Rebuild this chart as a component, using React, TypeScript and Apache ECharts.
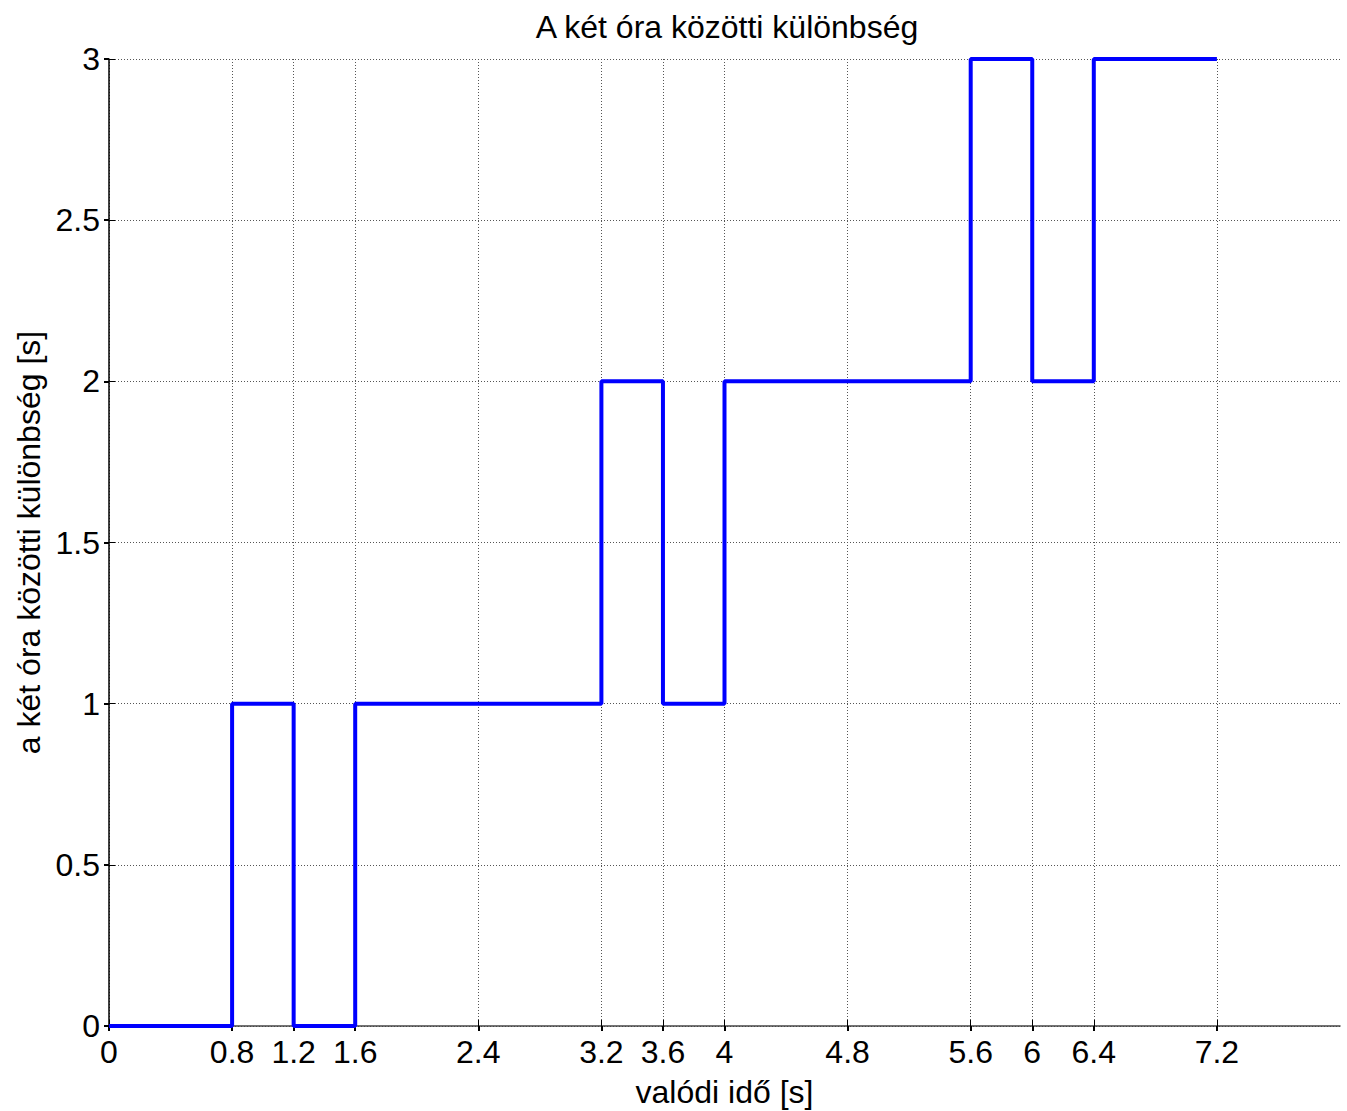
import React, { useEffect, useRef } from "react";
import * as echarts from "echarts";

const titleText = "A két óra közötti különbség";
const xAxisName = "valódi idő [s]";
const yAxisName = "a két óra közötti különbség [s]";

const timeValues = [0, 0.8, 1.2, 1.6, 3.2, 3.6, 4, 5.6, 6, 6.4, 7.2];
const diffValues = [0, 1, 0, 1, 2, 1, 2, 3, 2, 3, 3];
const xTicks = [0, 0.8, 1.2, 1.6, 2.4, 3.2, 3.6, 4, 4.8, 5.6, 6, 6.4, 7.2];

const FONT = "'Liberation Sans', Arial, sans-serif";
const FS = 32;

export default function App() {
  const ref = useRef<HTMLDivElement>(null);
  useEffect(() => {
    if (!ref.current) return;
    const chart = echarts.init(ref.current, null, { renderer: "svg" });
    const gridLine = { show: true, lineStyle: { color: "#555", type: [1, 2], width: 1 } };
    chart.setOption({
      animation: false,
      backgroundColor: "#fff",
      textStyle: { fontFamily: FONT },
      title: {
        text: titleText,
        left: 722,
        top: 6,
        textAlign: "center",
        textStyle: { fontFamily: FONT, fontSize: FS, fontWeight: "normal", color: "#000" },
      },
      grid: {
        left: 109,
        top: 59,
        width: 1231,
        height: 967,
        containLabel: false,
        outerBoundsMode: "none",
      },
      xAxis: [
        {
          type: "value",
          min: 0,
          max: 8,
          name: xAxisName,
          nameLocation: "middle",
          nameGap: 50,
          nameTextStyle: { fontFamily: FONT, fontSize: FS, color: "#000" },
          axisLine: { show: true, lineStyle: { color: "#444", width: 1.5 } },
          axisTick: { show: true, inside: true, length: 6, customValues: xTicks, lineStyle: { color: "#000" } },
          axisLabel: {
            customValues: xTicks,
            fontFamily: FONT,
            fontSize: FS,
            color: "#000",
            margin: 10,
            formatter: (v: number) => String(v),
          },
          splitLine: gridLine,
        },
        {
          type: "value",
          position: "top",
          min: 0,
          max: 8,
          axisLine: { show: false },
          axisTick: { show: true, inside: true, length: 5, customValues: xTicks, lineStyle: { color: "#000", width: 2 } },
          axisLabel: { show: false, customValues: xTicks },
          splitLine: { show: false },
        },
      ],
      yAxis: [
        {
          type: "value",
          min: 0,
          max: 3,
          interval: 0.5,
          name: yAxisName,
          nameLocation: "middle",
          nameGap: 63,
          nameRotate: 90,
          nameTextStyle: { fontFamily: FONT, fontSize: FS, color: "#000" },
          axisLine: { show: true, lineStyle: { color: "#000", width: 1.5 } },
          axisTick: { show: true, inside: true, length: 6, lineStyle: { color: "#000" } },
          axisLabel: { fontFamily: FONT, fontSize: FS, color: "#000", margin: 9 },
          splitLine: gridLine,
        },
        {
          type: "value",
          position: "right",
          min: 0,
          max: 3,
          interval: 0.5,
          axisLine: { show: false },
          axisTick: { show: true, inside: true, length: 5, lineStyle: { color: "#000", width: 2 } },
          axisLabel: { show: false },
          splitLine: { show: false },
        },
      ],
      series: [
        {
          type: "line",
          step: "end",
          showSymbol: false,
          symbol: "none",
          lineStyle: { color: "#0000ff", width: 4 },
          data: timeValues.map((t, i) => [t, diffValues[i]]),
          z: 5,
        },
      ],
    });
    return () => chart.dispose();
  }, []);
  return (
    <div
      ref={ref}
      style={{ position: "fixed", left: 0, top: 0, width: 1347, height: 1111, background: "#fff" }}
    />
  );
}
